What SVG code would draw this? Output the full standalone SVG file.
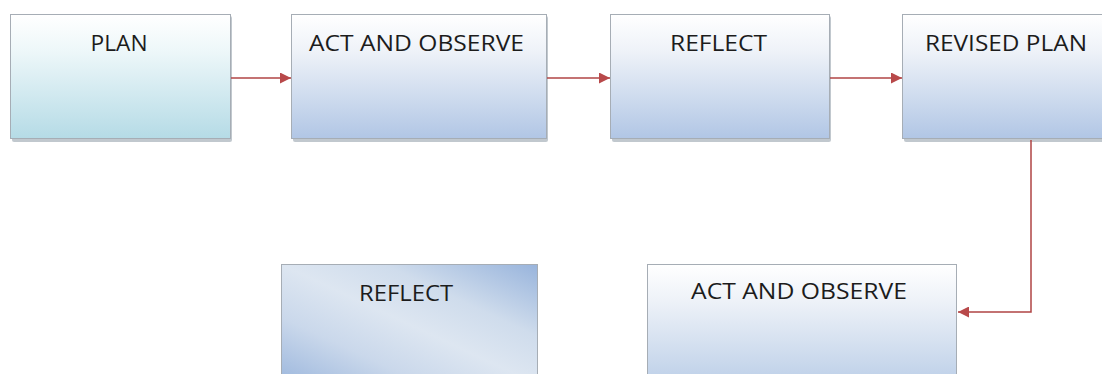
<svg xmlns="http://www.w3.org/2000/svg" width="1102" height="374" viewBox="0 0 1102 374">
<defs>
<linearGradient id="gCyan" x1="0" y1="0" x2="0" y2="1">
<stop offset="0" stop-color="#ffffff"/>
<stop offset="0.3" stop-color="#edf7f9"/>
<stop offset="1" stop-color="#b5dbe6"/>
</linearGradient>
<linearGradient id="gBlue" x1="0" y1="0" x2="0" y2="1">
<stop offset="0" stop-color="#ffffff"/>
<stop offset="0.3" stop-color="#eef2f8"/>
<stop offset="1" stop-color="#b1c6e5"/>
</linearGradient>
<linearGradient id="gBlue2" x1="0" y1="0" x2="0" y2="1">
<stop offset="0" stop-color="#ffffff"/>
<stop offset="0.3" stop-color="#eef2f8"/>
<stop offset="1" stop-color="#bccfe8"/>
</linearGradient>
<linearGradient id="gDiag" x1="1" y1="0" x2="0" y2="1">
<stop offset="0" stop-color="#98b4dc"/>
<stop offset="0.3" stop-color="#cfdcec"/>
<stop offset="0.5" stop-color="#dde6f1"/>
<stop offset="0.72" stop-color="#cad8eb"/>
<stop offset="1" stop-color="#9cb7dd"/>
</linearGradient>
<marker id="arr" viewBox="0 0 10 10" refX="10" refY="5" markerWidth="11" markerHeight="11" markerUnits="userSpaceOnUse" orient="auto">
<path d="M0,0 L10,5 L0,10 Z" fill="#b8494a"/>
</marker>
</defs>
<style>
.box{stroke:#a6adb5;stroke-width:1}
.shadow{fill:#8e9aa6;opacity:0.55}
.lbl{font-family:"Open Sans","Liberation Sans",sans-serif;font-size:22px;fill:#1c1c1c;text-anchor:middle}
.conn{fill:none;stroke:#b04444;stroke-width:1.5}
</style>
<rect width="1102" height="374" fill="#ffffff"/>
<g id="node-plan">
<rect class="shadow" x="12" y="16" width="220" height="126" rx="2"/>
<rect class="box" x="10.5" y="14.5" width="220" height="124" fill="url(#gCyan)"/>
<text class="lbl" x="119" y="51" textLength="57" lengthAdjust="spacingAndGlyphs">PLAN</text>
</g>
<g id="node-act1">
<rect class="shadow" x="293" y="16" width="255" height="126" rx="2"/>
<rect class="box" x="291.5" y="14.5" width="255" height="124" fill="url(#gBlue)"/>
<text class="lbl" x="416.5" y="51" textLength="215" lengthAdjust="spacingAndGlyphs">ACT AND OBSERVE</text>
</g>
<g id="node-reflect1">
<rect class="shadow" x="612" y="16" width="219" height="126" rx="2"/>
<rect class="box" x="610.5" y="14.5" width="219" height="124" fill="url(#gBlue)"/>
<text class="lbl" x="718.5" y="51" textLength="97" lengthAdjust="spacingAndGlyphs">REFLECT</text>
</g>
<g id="node-revised">
<rect class="shadow" x="904" y="16" width="210" height="126" rx="2"/>
<rect class="box" x="902.5" y="14.5" width="210" height="124" fill="url(#gBlue)"/>
<text class="lbl" x="1006" y="51" textLength="162" lengthAdjust="spacingAndGlyphs">REVISED PLAN</text>
</g>
<g id="node-reflect2">
<rect class="box" x="281.5" y="264.5" width="256" height="120" fill="url(#gDiag)"/>
<text class="lbl" x="406" y="301" textLength="94" lengthAdjust="spacingAndGlyphs">REFLECT</text>
</g>
<g id="node-act2">
<rect class="box" x="647.5" y="264.5" width="309" height="120" fill="url(#gBlue2)"/>
<text class="lbl" x="799" y="299" textLength="216" lengthAdjust="spacingAndGlyphs">ACT AND OBSERVE</text>
</g>
<g id="connectors">
<line class="conn" x1="231" y1="78" x2="291" y2="78" marker-end="url(#arr)"/>
<line class="conn" x1="547" y1="78" x2="610" y2="78" marker-end="url(#arr)"/>
<line class="conn" x1="830" y1="78" x2="902" y2="78" marker-end="url(#arr)"/>
<polyline class="conn" points="1031,140 1031,312 958,312" marker-end="url(#arr)"/>
</g>
</svg>
